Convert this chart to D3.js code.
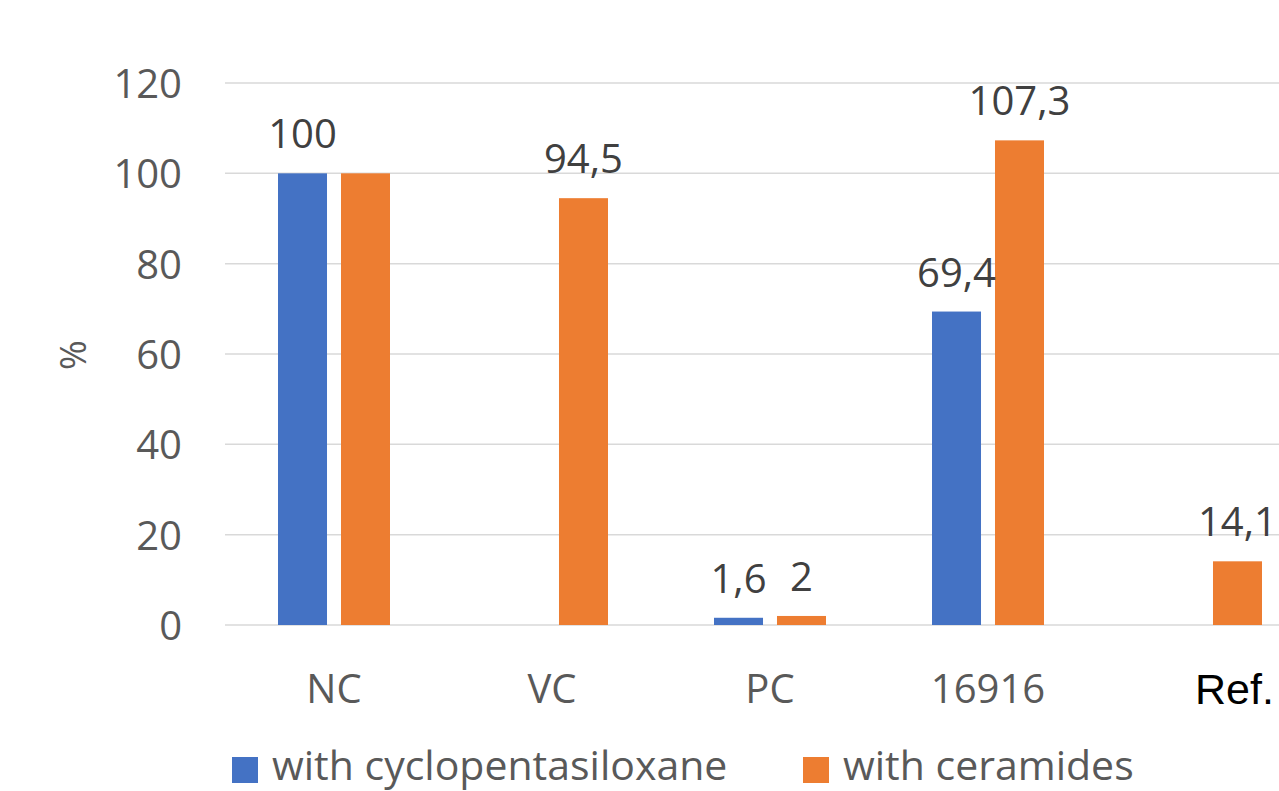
<!DOCTYPE html>
<html>
<head>
<meta charset="utf-8">
<script src="https://cdn.jsdelivr.net/npm/d3@7/dist/d3.min.js"></script>
<style>
  html, body { margin: 0; padding: 0; background: #fff; overflow: hidden; }
  svg { display: block; }
</style>
</head>
<body>
<svg id="chart" width="1279" height="791"></svg>
<script>
// Categories and series
const categories = ["NC", "VC", "PC", "16916", "Ref."];
const seriesNames = ["with cyclopentasiloxane", "with ceramides"];
const cyclopentasiloxane = [100, null, 1.6, 69.4, null];
const ceramides = [100, 94.5, 2, 107.3, 14.1];
// data labels shown per series (the NC ceramides label is not printed)
const showLabelCyclo = [true, false, true, true, false];
const showLabelCer = [false, true, true, true, true];
const yTicks = [0, 20, 40, 60, 80, 100, 120];
const colors = ["#4472C4", "#ED7D31"];

const svg = d3.select("#chart");
const W = 1279, H = 791;

const x0 = d3.scaleBand().domain(categories).range([225, 1315]).padding(0);
const x1 = d3.scaleBand().domain(seriesNames)
  .range([53, 165]).paddingInner(0.222).paddingOuter(0);
const y = d3.scaleLinear().domain([0, 120]).range([625, 83]);

const font = "'Open Sans', 'Noto Sans', sans-serif";

// gridlines
svg.append("g")
  .selectAll("line")
  .data(yTicks)
  .join("line")
  .attr("x1", 225).attr("x2", W)
  .attr("y1", d => y(d)).attr("y2", d => y(d))
  .attr("stroke", "#d9d9d9").attr("stroke-width", 1.5);

// y axis tick labels
const yAxis = d3.axisLeft(y).tickValues(yTicks).tickSize(0).tickPadding(0)
  .tickFormat(d3.format("d"));
const ya = svg.append("g").attr("transform", "translate(182,0)").call(yAxis);
ya.select(".domain").remove();
ya.selectAll("text")
  .attr("font-family", font).attr("font-size", 40).attr("fill", "#595959")
  .attr("dy", "0.36em");

// y axis title
svg.append("text")
  .attr("transform", "translate(86,355) rotate(-90)")
  .attr("text-anchor", "middle")
  .attr("font-family", font).attr("font-size", 36).attr("fill", "#595959")
  .text("%");

// bars
const rows = categories.map((c, i) => ({
  cat: c,
  vals: [
    { s: seriesNames[0], v: cyclopentasiloxane[i], k: 0, lab: showLabelCyclo[i] },
    { s: seriesNames[1], v: ceramides[i], k: 1, lab: showLabelCer[i] }
  ].filter(d => d.v !== null)
}));

const groups = svg.append("g").selectAll("g")
  .data(rows).join("g")
  .attr("transform", d => `translate(${x0(d.cat)},0)`);

groups.selectAll("rect")
  .data(d => d.vals).join("rect")
  .attr("x", d => x1(d.s))
  .attr("width", x1.bandwidth())
  .attr("y", d => y(d.v))
  .attr("height", d => y(0) - y(d.v))
  .attr("fill", d => colors[d.k]);

// value labels
const fmt = v => String(v).replace(".", ",");
groups.selectAll("text.val")
  .data(d => d.vals.filter(v => v.lab)).join("text")
  .attr("class", "val")
  .attr("x", d => x1(d.s) + x1.bandwidth() / 2)
  .attr("y", d => y(d.v) - 25)
  .attr("text-anchor", "middle")
  .attr("font-family", font).attr("font-size", 40).attr("fill", "#404040")
  .text(d => fmt(d.v));

// category labels
svg.append("g").selectAll("text")
  .data(categories).join("text")
  .attr("x", d => d === "Ref." ? 1195 : x0(d) + x0.bandwidth() / 2)
  .attr("y", d => d === "Ref." ? 704 : 703)
  .attr("text-anchor", d => d === "Ref." ? "start" : "middle")
  .attr("font-family", d => d === "Ref." ? "'Liberation Sans', Arial, sans-serif" : font)
  .attr("font-size", d => d === "Ref." ? 43 : 40)
  .attr("fill", d => d === "Ref." ? "#000" : "#595959")
  .text(d => d);

// legend
const legendX = [232, 803];
const leg = svg.append("g").selectAll("g")
  .data(seriesNames).join("g")
  .attr("transform", (d, i) => `translate(${legendX[i]},0)`);
leg.append("rect")
  .attr("x", 0).attr("y", 757).attr("width", 26).attr("height", 26)
  .attr("fill", (d, i) => colors[i]);
leg.append("text")
  .attr("x", 40).attr("y", 780)
  .attr("font-family", font).attr("font-size", 41).attr("fill", "#595959")
  .text(d => d);
</script>
</body>
</html>
